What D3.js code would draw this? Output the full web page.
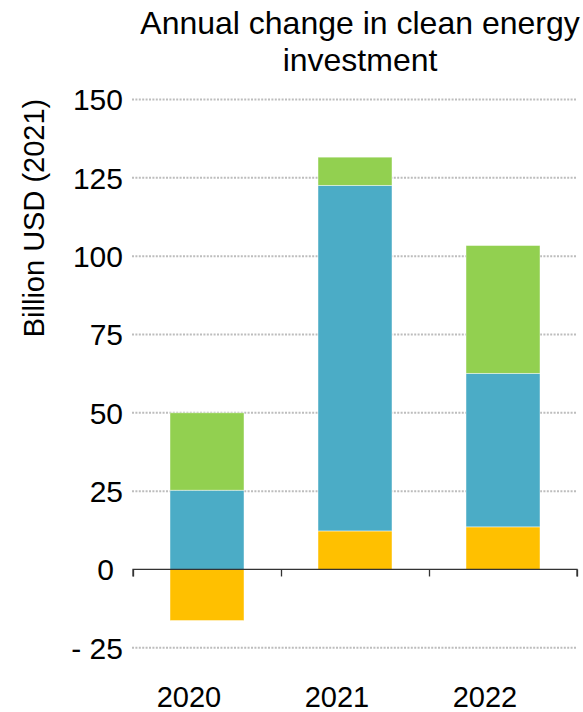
<!DOCTYPE html>
<html>
<head>
<meta charset="utf-8">
<script src="https://cdn.jsdelivr.net/npm/d3@7"></script>
<style>
  html, body { margin: 0; padding: 0; background: #fff; }
  svg { display: block; font-family: "Liberation Sans", Arial, sans-serif; }
</style>
</head>
<body>
<svg id="chart" width="583" height="712"></svg>
<script>
// Annual change in clean energy investment, stacked by component
const years = ["2020", "2021", "2022"];
const seriesNames = ["Base", "Middle", "Top"];
const baseValues = [-16.3, 12.3, 13.6];   // yellow segment
const middleValues = [25.3, 110.3, 49.0]; // blue segment
const topValues = [24.7, 9.0, 40.8];      // green segment
const seriesColors = ["#FFC000", "#4BACC6", "#92D050"];
const yTicks = [-25, 0, 25, 50, 75, 100, 125, 150];
const tickLabels = ["- 25", "0", "25", "50", "75", "100", "125", "150"];
const titleLines = ["Annual change in clean energy", "investment"];
const yAxisTitle = "Billion USD (2021)";

const svg = d3.select("#chart");
const plot = { left: 133, right: 577, top: 99.5, bottom: 647.8 };

const x = d3.scaleBand().domain(years).range([plot.left, plot.right])
  .paddingInner(0.5).paddingOuter(0.25);
const y = d3.scaleLinear().domain([-25, 150]).range([plot.bottom, plot.top]);

// Gridlines
svg.append("g")
  .selectAll("line")
  .data(yTicks.filter(d => d !== 0))
  .join("line")
  .attr("x1", plot.left - 1)
  .attr("x2", plot.right)
  .attr("y1", d => y(d))
  .attr("y2", d => y(d))
  .attr("stroke", "#bdbdbd")
  .attr("stroke-width", 2)
  .attr("stroke-dasharray", "2,1.4");

// Stack the segments; negative values stack below zero
const rows = years.map((yr, i) => ({
  year: yr, Base: baseValues[i], Middle: middleValues[i], Top: topValues[i]
}));
const stacked = d3.stack().keys(seriesNames).offset(d3.stackOffsetDiverging)(rows);

svg.append("g")
  .selectAll("g")
  .data(stacked)
  .join("g")
  .attr("fill", (d, i) => seriesColors[i])
  .selectAll("rect")
  .data(d => d)
  .join("rect")
  .attr("x", d => x(d.data.year))
  .attr("width", x.bandwidth())
  .attr("y", d => y(Math.max(d[0], d[1])))
  .attr("height", d => Math.abs(y(d[0]) - y(d[1])))
  .attr("stroke", "#ffffff")
  .attr("stroke-opacity", 0.6)
  .attr("stroke-width", 0.75);

// Zero axis with category separators
const axisG = svg.append("g").attr("transform", `translate(0,${y(0)})`);
axisG.call(
  d3.axisBottom(d3.scaleLinear().domain([0, 3]).range([plot.left, plot.right]))
    .tickValues([0, 1, 2, 3]).tickSize(7).tickFormat("")
);
axisG.select(".domain").attr("stroke", "#333").attr("stroke-width", 1.3)
  .attr("d", `M${plot.left},7V0H${plot.right}V7`);
axisG.selectAll(".tick line").attr("stroke", "#333").attr("stroke-width", 1.3);

// Y tick labels
svg.append("g")
  .selectAll("text")
  .data(yTicks)
  .join("text")
  .attr("x", d => d === 0 ? 114 : 123)
  .attr("y", d => y(d))
  .attr("dy", "0.36em")
  .attr("text-anchor", "end")
  .attr("font-size", 30)
  .attr("fill", "#000")
  .text((d, i) => tickLabels[i]);

// Category labels
svg.append("g")
  .selectAll("text")
  .data(years)
  .join("text")
  .attr("x", d => x(d) + x.bandwidth() / 2 - 18)
  .attr("y", 707)
  .attr("text-anchor", "middle")
  .attr("font-size", 29)
  .attr("fill", "#000")
  .text(d => d);

// Y axis title
svg.append("text")
  .attr("transform", "translate(44,218) rotate(-90)")
  .attr("text-anchor", "middle")
  .attr("font-size", 29)
  .attr("fill", "#000")
  .text(yAxisTitle);

// Chart title
svg.append("g")
  .selectAll("text")
  .data(titleLines)
  .join("text")
  .attr("x", 360)
  .attr("y", (d, i) => 34 + i * 37)
  .attr("text-anchor", "middle")
  .attr("font-size", 32)
  .attr("fill", "#000")
  .text(d => d);
</script>
</body>
</html>
